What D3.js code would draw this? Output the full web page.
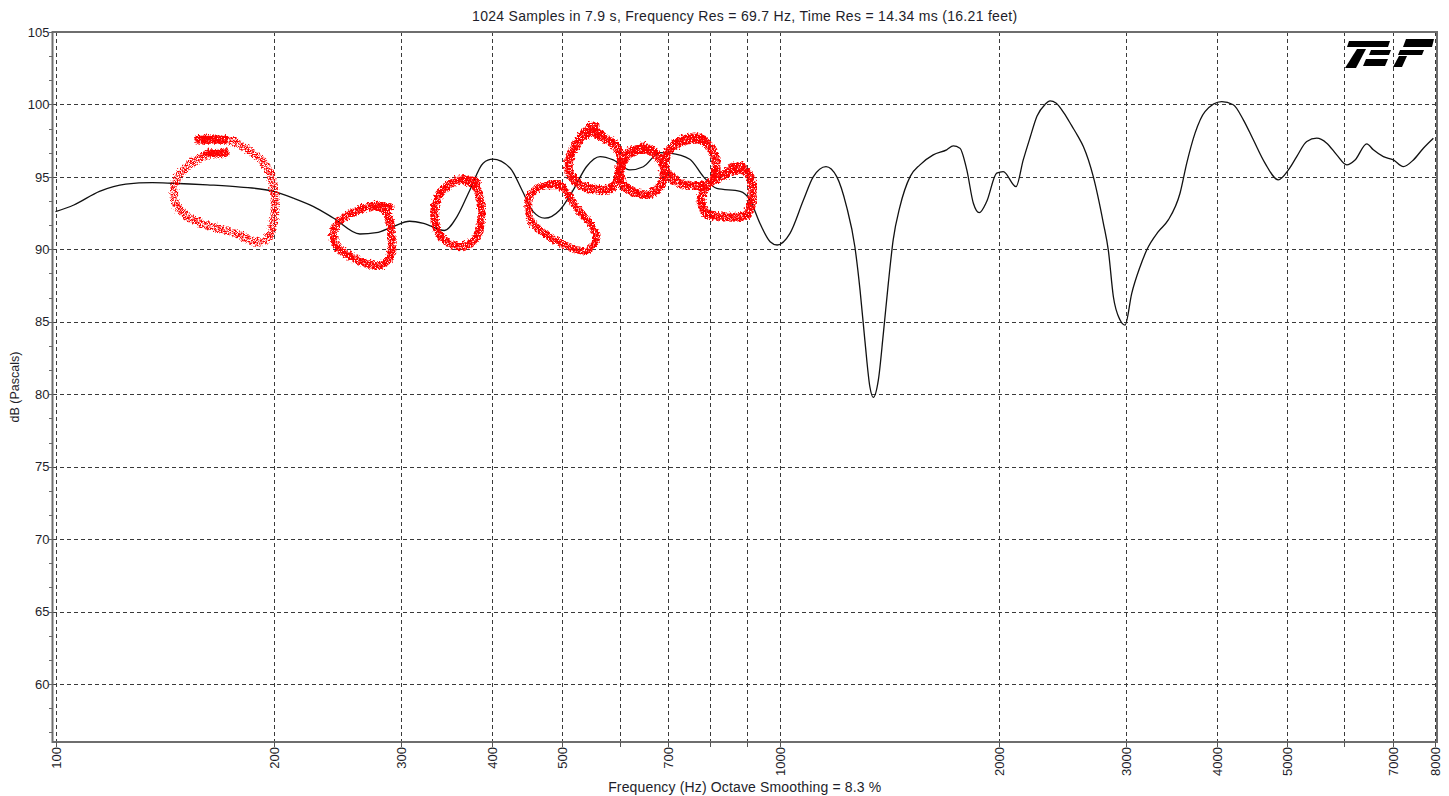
<!DOCTYPE html>
<html>
<head>
<meta charset="utf-8">
<script src="https://cdn.jsdelivr.net/npm/d3@7"></script>
<style>
  html, body { margin: 0; padding: 0; background: #fff; }
  svg { display: block; font-family: "Liberation Sans", Arial, sans-serif; }
</style>
</head>
<body>
<svg id="chart" width="1449" height="796"></svg>
<script>
// Smoothed magnitude response (frequency in Hz, level in dB re Pascals)
const freqs = [100, 106, 115, 125, 136, 145, 162, 180, 200, 213, 227, 242, 263, 277, 292, 308, 322, 344, 358, 373, 389,
  401, 424, 440, 456, 473, 496, 518, 540, 564, 588, 620, 647, 682, 704, 750, 783, 817, 880, 908, 937, 968, 990,
  1031, 1076, 1110, 1156, 1196, 1234, 1267, 1288, 1308, 1329, 1343, 1365, 1387, 1409, 1431, 1462, 1510, 1558, 1625,
  1696, 1732, 1769, 1808, 1846, 1881, 1926, 1988, 2030, 2114, 2163, 2210, 2260, 2318, 2355, 2400, 2462, 2525, 2574,
  2618, 2702, 2790, 2834, 2880, 2942, 2989, 3053, 3135, 3202, 3322, 3429, 3559, 3636, 3733, 3853, 4063, 4215, 4352,
  4492, 4662, 4863, 5021, 5156, 5323, 5495, 5672, 5855, 6044, 6206, 6441, 6577, 6790, 7009, 7235, 7469, 7710, 7959];
const levels = [92.6, 93.06, 94.0, 94.5, 94.6, 94.56, 94.45, 94.3, 94.0, 93.53, 92.95, 92.15, 91.06, 91.15, 91.57, 91.94, 91.8, 91.3, 92.26, 94.1, 95.95,
  96.22, 95.6, 94.1, 92.6, 92.15, 92.7, 94.1, 95.7, 96.4, 96.17, 95.48, 95.7, 96.68, 96.64, 96.22, 95.02, 94.2, 94.0, 93.4, 91.8, 90.53, 90.3,
  91.1, 93.4, 95.0, 95.71, 95.02, 92.95, 90.18, 87.19, 83.7, 80.5, 79.78, 80.97, 84.2, 87.65, 90.65, 92.95, 95.02, 95.83, 96.52,
  96.87, 97.14, 96.98, 95.48, 93.18, 92.53, 93.3, 95.26, 95.37, 94.33, 96.17, 97.7, 99.2, 100.0, 100.25, 100.1, 99.4, 98.5, 97.8,
  97.1, 95.02, 91.8, 89.95, 86.73, 85.12, 84.77, 86.96, 88.8, 89.95, 91.22, 92.03, 93.87, 95.95, 98.02, 99.51, 100.2, 99.98, 98.94,
  97.56, 95.95, 94.8, 95.48, 96.4, 97.44, 97.67, 97.33, 96.52, 95.83, 96.17, 97.28, 96.87, 96.4, 96.17, 95.71, 96.17, 96.98, 97.67];

// Axis ticks
const dbTicks = [60, 65, 70, 75, 80, 85, 90, 95, 100, 105];
const freqGrid = [100, 200, 300, 400, 500, 600, 700, 800, 900, 1000, 2000, 3000, 4000, 5000, 6000, 7000, 8000];
const freqLabels = [100, 200, 300, 400, 500, 700, 1000, 2000, 3000, 4000, 5000, 7000, 8000];

// Hand-drawn red loops around the low/mid band, as [Hz, dB] points along each stroke
const loop1 = [[171, 96.7], [161, 96.6], [153, 96.0], [148, 95.3], [145, 94.3], [146, 93.2], [151, 92.4], [158, 91.9],
  [168, 91.5], [179, 91.1], [188, 90.6], [195, 90.8], [198, 91.5], [200, 93.1], [199, 94.4], [196, 95.6], [191, 96.3],
  [184, 96.9], [177, 97.4], [170, 97.7], [157, 97.7]];
const loop2 = [[288, 93.0], [273, 93.07], [259, 92.72], [247, 92.17], [241, 91.34], [243, 90.37], [252, 89.68],
  [265, 89.19], [279, 88.99], [288, 89.47], [290, 90.65], [288, 91.89], [285, 92.72], [278, 93.07]];
const loop3 = [[380, 94.72], [364, 94.93], [347, 94.51], [335, 93.55], [332, 92.3], [336, 91.2], [348, 90.51],
  [364, 90.3], [378, 90.8], [385, 92.03], [384, 93.41], [378, 94.38], [368, 94.86]];
const loop4 = [[492, 94.59], [476, 94.59], [459, 94.24], [448, 93.62], [451, 92.03], [461, 91.55], [481, 90.86],
  [508, 90.3], [534, 89.96], [551, 90.44], [555, 91.13], [541, 92.03], [517, 93.2], [504, 94.1], [492, 94.59]];
const loop5 = [[550, 98.59], [529, 97.76], [512, 96.66], [509, 95.49], [524, 94.66], [551, 94.24], [582, 94.31],
  [597, 95.28], [601, 96.38], [587, 97.35], [569, 97.76], [558, 98.04]];
const loop6 = [[650, 97.07], [616, 96.73], [599, 95.83], [601, 94.79], [624, 94.03], [657, 93.89], [682, 94.59],
  [689, 95.62], [671, 96.66], [644, 97.14]];
const loop7 = [[750, 97.76], [715, 97.35], [691, 96.38], [693, 95.49], [715, 94.79], [755, 94.45], [795, 94.66],
  [812, 95.49], [805, 96.73], [782, 97.56], [755, 97.83]];
const loop8 = [[880, 95.83], [826, 95.14], [787, 94.45], [775, 93.41], [787, 92.58], [839, 92.31], [894, 92.44],
  [911, 93.41], [909, 94.79], [885, 95.62], [858, 95.76]];
const loops = [loop1, loop2, loop3, loop4, loop5, loop6, loop7, loop8];

const titleText = "1024 Samples in 7.9 s, Frequency Res = 69.7 Hz, Time Res = 14.34 ms (16.21 feet)";
const xTitleText = "Frequency (Hz) Octave Smoothing = 8.3 %";
const yTitleText = "dB (Pascals)";

// ---- layout ----
const frame = { left: 52.5, top: 32, right: 1437, bottom: 742 };

const svg = d3.select("#chart");

const x = d3.scaleLog().domain([100, 8000]).range([frame.left + 3, frame.right - 2]);
const y = d3.scaleLinear().domain([56, 105]).range([frame.bottom, frame.top]);

const ink = "#1e1e2a";

// ---- spray-paint texture for the red marker strokes ----
const defs = svg.append("defs");
function sprayFilter(id, slope, offset, seed) {
  const f = defs.append("filter").attr("id", id)
    .attr("x", "-10%").attr("y", "-10%").attr("width", "120%").attr("height", "120%");
  f.append("feTurbulence").attr("type", "turbulence").attr("baseFrequency", 0.3)
    .attr("numOctaves", 2).attr("seed", seed).attr("result", "warp");
  f.append("feDisplacementMap").attr("in", "SourceGraphic").attr("in2", "warp").attr("scale", 5)
    .attr("xChannelSelector", "R").attr("yChannelSelector", "G").attr("result", "rough");
  f.append("feTurbulence").attr("type", "fractalNoise").attr("baseFrequency", 1.3)
    .attr("numOctaves", 1).attr("seed", seed + 5).attr("result", "grain");
  f.append("feColorMatrix").attr("in", "grain").attr("type", "matrix")
    .attr("values", `0 0 0 0 0  0 0 0 0 0  0 0 0 0 0  ${slope} 0 0 0 ${offset}`).attr("result", "mask");
  f.append("feComposite").attr("in", "rough").attr("in2", "mask").attr("operator", "in");
}
sprayFilter("spraySparse", 5, -1.9, 3);
sprayFilter("sprayDense", 5, -1.4, 11);

// ---- grid ----
const grid = svg.append("g").attr("stroke", "#3a3a3a").attr("stroke-width", 1)
  .attr("stroke-dasharray", "4,3").attr("fill", "none").attr("shape-rendering", "crispEdges");

grid.selectAll("line.h").data(dbTicks.filter(d => d < 105)).join("line")
  .attr("x1", frame.left).attr("x2", frame.right)
  .attr("y1", d => Math.round(y(d)) + 0.5).attr("y2", d => Math.round(y(d)) + 0.5);

grid.selectAll("line.v").data(freqGrid).join("line")
  .attr("x1", d => Math.round(x(d)) + 0.5).attr("x2", d => Math.round(x(d)) + 0.5)
  .attr("y1", frame.top).attr("y2", frame.bottom);

// ---- frame ----
svg.append("rect")
  .attr("x", frame.left).attr("y", frame.top)
  .attr("width", frame.right - frame.left).attr("height", frame.bottom - frame.top)
  .attr("fill", "none").attr("stroke", "#6e6e6e").attr("stroke-width", 2);

// ---- y axis ticks and labels ----
const yAxis = svg.append("g").attr("shape-rendering", "crispEdges");
const minorDb = d3.range(0, 30).map(i => 105 - i * 5 / 3).filter(d => d >= 56);
yAxis.selectAll("line").data(minorDb).join("line")
  .attr("x1", frame.left - 4).attr("x2", frame.left)
  .attr("y1", d => Math.round(y(d)) + 0.5).attr("y2", d => Math.round(y(d)) + 0.5)
  .attr("stroke", "#666");
yAxis.selectAll("text").data(dbTicks).join("text")
  .attr("x", frame.left - 3).attr("y", d => y(d)).attr("dy", "0.36em")
  .attr("text-anchor", "end").attr("font-size", 13).attr("fill", ink)
  .text(d => d);

// ---- x axis ticks and labels ----
const xAxis = svg.append("g");
xAxis.selectAll("line").data(freqGrid).join("line")
  .attr("x1", d => Math.round(x(d)) + 0.5).attr("x2", d => Math.round(x(d)) + 0.5)
  .attr("y1", frame.bottom).attr("y2", frame.bottom + 5)
  .attr("stroke", "#555").attr("shape-rendering", "crispEdges");
xAxis.selectAll("text").data(freqLabels).join("text")
  .attr("transform", d => `translate(${x(d) + 5},${frame.bottom + 5}) rotate(-90)`)
  .attr("text-anchor", "end").attr("font-size", 13).attr("fill", ink)
  .text(d => d);

// ---- titles ----
const midX = (frame.left + frame.right) / 2;
svg.append("text").attr("x", midX).attr("y", 21).attr("text-anchor", "middle")
  .attr("font-size", 14).attr("letter-spacing", 0.3).attr("fill", ink).text(titleText);
svg.append("text").attr("x", midX).attr("y", 792).attr("text-anchor", "middle")
  .attr("font-size", 14).attr("letter-spacing", 0.15).attr("fill", ink).text(xTitleText);
svg.append("text")
  .attr("transform", `translate(19,${(frame.top + frame.bottom) / 2}) rotate(-90)`)
  .attr("text-anchor", "middle").attr("font-size", 12.5).attr("fill", ink).text(yTitleText);

// ---- TEF logo (italic striped letters) ----
const logo = svg.append("g")
  .attr("transform", `translate(${frame.right - 93},${frame.top + 7})`)
  .attr("fill", "#000");
const logoShapes = [
  "M5,2 L46,2 L44,8 L3,8 Z",           // T / E top bar
  "M13,10 L22,10 L12,29 L1,29 Z",      // T stem
  "M27,11 L47,11 L45,16 L25,16 Z",     // E middle bar
  "M22,20 L44,20 L41,27 L19,27 Z",     // E bottom bar
  "M62,0 L90,0 L88,8 L59,8 Z",         // F top bar
  "M56,11 L80,11 L78,16 L54,16 Z",     // F middle bar
  "M55,17 L63,17 L58,28 L49,28 Z"      // F stem
];
logo.selectAll("path").data(logoShapes).join("path").attr("d", d => d);

// ---- response curve ----
const pts = freqs.map((f, i) => [f, levels[i]]);
const line = d3.line().x(d => x(d[0])).y(d => y(d[1])).curve(d3.curveMonotoneX);
svg.append("path").datum(pts)
  .attr("d", line)
  .attr("fill", "none").attr("stroke", "#111").attr("stroke-width", 1.3)
  .attr("stroke-linejoin", "round");

// ---- red marker loops ----
const loopLine = d3.line().x(d => x(d[0])).y(d => y(d[1])).curve(d3.curveCatmullRom.alpha(0.5));
const loopWidth = [8, 8, 8, 7, 9, 9, 9, 9];
const marks = svg.append("g");
loops.forEach((lp, i) => {
  marks.append("g").attr("filter", i === 0 ? "url(#spraySparse)" : "url(#sprayDense)")
    .append("path").datum(lp).attr("d", loopLine)
    .attr("fill", "none").attr("stroke", "#ff0000").attr("stroke-width", loopWidth[i])
    .attr("stroke-linecap", "round").attr("stroke-linejoin", "round");
  // pen rests at the start and end of each stroke leave heavier blots
  const blots = marks.append("g").attr("filter", "url(#sprayDense)");
  [lp.slice(0, 2), lp.slice(-2)].forEach(seg => {
    blots.append("path").datum(seg).attr("d", loopLine)
      .attr("fill", "none").attr("stroke", "#ff0000").attr("stroke-width", loopWidth[i] + 2)
      .attr("stroke-linecap", "round");
  });
});
</script>
</body>
</html>
